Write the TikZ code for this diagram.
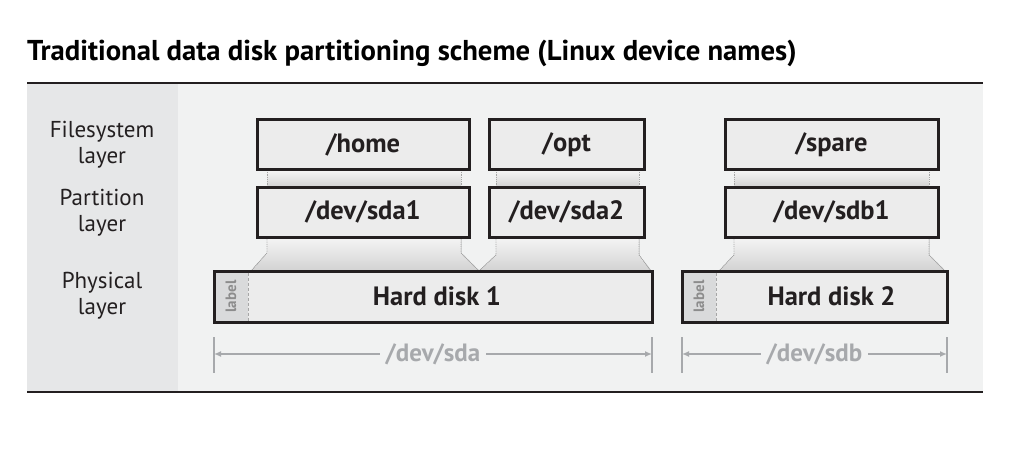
\documentclass[tikz,border=0pt]{standalone}
\usepackage{fontspec}
\setmainfont{PT Sans}
\usetikzlibrary{positioning, calc, arrows.meta}
\definecolor{ink}{HTML}{231F20}
\definecolor{panelleft}{HTML}{E6E7E8}
\definecolor{panelright}{HTML}{F1F2F2}
\definecolor{boxfill}{HTML}{ECECEC}
\definecolor{stripfill}{HTML}{D9DADB}
\definecolor{dimgray}{HTML}{A7A9AC}

\tikzset{
  box/.style={draw=ink, line width=3pt, fill=boxfill, inner sep=0pt, outer sep=0pt,
    minimum height=50pt, text=ink, font=\fontsize{26.5}{28}\selectfont\bfseries},
  disk/.style={box, minimum height=51pt},
  disktext/.style={text=ink, font=\fontsize{26.5}{28}\selectfont\bfseries},
  layertext/.style={align=center, text=ink, font=\fontsize{23}{26}\selectfont},
  striptext/.style={text=gray!90, rotate=90, font=\fontsize{15}{15}\selectfont\bfseries},
  band/.style={top color=gray!8, bottom color=gray!35, draw=none},
  bandedge/.style={draw=gray!70, densely dotted, line width=0.8pt},
  dimtick/.style={draw=dimgray, line width=1.5pt},
  dimarrow/.style={draw=dimgray, line width=2pt, {Latex[length=7pt,width=6pt]}-{Latex[length=7pt,width=6pt]}},
  dimtext/.style={fill=panelright, inner xsep=6pt, text=dimgray, font=\fontsize{25}{27}\selectfont\bfseries}
}

\begin{document}
\begin{tikzpicture}[x=1pt, y=-1pt]
\useasboundingbox (0,0) rectangle (1024,449);
\fill[white] (0,0) rectangle (1024,449);

% --- Title and frame ---
\node[anchor=base west, inner sep=0pt, text=black, font=\fontsize{28.7}{31}\selectfont\bfseries]
  (title) at (27,61) {Traditional data disk partitioning scheme (Linux device names)};
\fill[panelright] (178,84) rectangle (983,391);
\fill[panelleft] (27,84) rectangle (178,391);
\draw[ink, line width=2.5pt] (27,83) -- (983,83);
\draw[ink, line width=2.5pt] (27,392) -- (983,392);

% --- Layer names ---
\node[layertext] (fslayer) at (102,145) {Filesystem\\layer};
\node[layertext] (partlayer) at (102,213) {Partition\\layer};
\node[layertext] (physlayer) at (102,296) {Physical\\layer};

% --- Bands between layers ---
\fill[band] (267,170) rectangle (461,187);
\fill[band] (496,170) rectangle (639,187);
\fill[band] (734,170) rectangle (929,187);
\fill[band] (267,237) -- (267,253) -- (251,271) -- (479,271) -- (461,253) -- (461,237) -- cycle;
\fill[band] (496,237) -- (496,255) -- (479,271) -- (651,271) -- (639,255) -- (639,237) -- cycle;
\fill[band] (734,237) -- (734,255) -- (719,271) -- (945,271) -- (929,255) -- (929,237) -- cycle;
\draw[bandedge] (267,170) -- (267,187);
\draw[bandedge] (461,170) -- (461,187);
\draw[bandedge] (496,170) -- (496,187);
\draw[bandedge] (639,170) -- (639,187);
\draw[bandedge] (734,170) -- (734,187);
\draw[bandedge] (929,170) -- (929,187);
\draw[bandedge] (267,237) -- (267,253) -- (251,271);
\draw[bandedge] (461,237) -- (461,253) -- (479,271);
\draw[bandedge] (496,237) -- (496,255) -- (479,271);
\draw[bandedge] (639,237) -- (639,255) -- (651,271);
\draw[bandedge] (734,237) -- (734,255) -- (719,271);
\draw[bandedge] (929,237) -- (929,255) -- (945,271);

% --- Filesystem layer ---
\node[box, minimum width=212pt] (home) at (363,145) {/home};
\node[box, minimum width=155pt] (opt) at (566.5,145) {/opt};
\node[box, minimum width=213pt] (spare) at (831.5,145) {/spare};

% --- Partition layer ---
\node[box, minimum width=212pt] (sdaone) at (363,212) {/dev/sda1};
\node[box, minimum width=155pt] (sdatwo) at (566.5,212) {/dev/sda2};
\node[box, minimum width=213pt] (sdbone) at (831.5,212) {/dev/sdb1};

% --- Physical layer ---
\node[disk, minimum width=438pt] (diskone) at (433,296.5) {};
\node[disk, minimum width=265pt] (disktwo) at (814.5,296.5) {};
\fill[stripfill] ($(diskone.north west)+(1.5,1.5)$) rectangle ($(diskone.south west)+(34,-1.5)$);
\fill[stripfill] ($(disktwo.north west)+(1.5,1.5)$) rectangle ($(disktwo.south west)+(34,-1.5)$);
\draw[gray!70, densely dashed, line width=1pt] ($(diskone.north west)+(34,1.5)$) -- ($(diskone.south west)+(34,-1.5)$);
\draw[gray!70, densely dashed, line width=1pt] ($(disktwo.north west)+(34,1.5)$) -- ($(disktwo.south west)+(34,-1.5)$);
\node[striptext] (onelabel) at ($(diskone.west)+(17,0)$) {label};
\node[striptext] (twolabel) at ($(disktwo.west)+(17,0)$) {label};
\node[disktext] (onetext) at ($(diskone.center)+(4,0)$) {Hard disk 1};
\node[disktext] (twotext) at ($(disktwo.center)+(17,0)$) {Hard disk 2};

% --- Device names ---
\coordinate (sdaL) at ($(diskone.south west)+(0,32)$);
\coordinate (sdaR) at ($(diskone.south east)+(0,32)$);
\coordinate (sdbL) at ($(disktwo.south west)+(0,32)$);
\coordinate (sdbR) at ($(disktwo.south east)+(0,32)$);
\draw[dimtick] ($(sdaL)+(0,-17)$) -- ($(sdaL)+(0,19)$);
\draw[dimtick] ($(sdaR)+(0,-17)$) -- ($(sdaR)+(0,19)$);
\draw[dimtick] ($(sdbL)+(0,-17)$) -- ($(sdbL)+(0,19)$);
\draw[dimtick] ($(sdbR)+(0,-17)$) -- ($(sdbR)+(0,19)$);
\draw[dimarrow] (sdaL) -- (sdaR) node[dimtext, midway] (sdatext) {/dev/sda};
\draw[dimarrow] (sdbL) -- (sdbR) node[dimtext, midway] (sdbtext) {/dev/sdb};
\end{tikzpicture}
\end{document}
